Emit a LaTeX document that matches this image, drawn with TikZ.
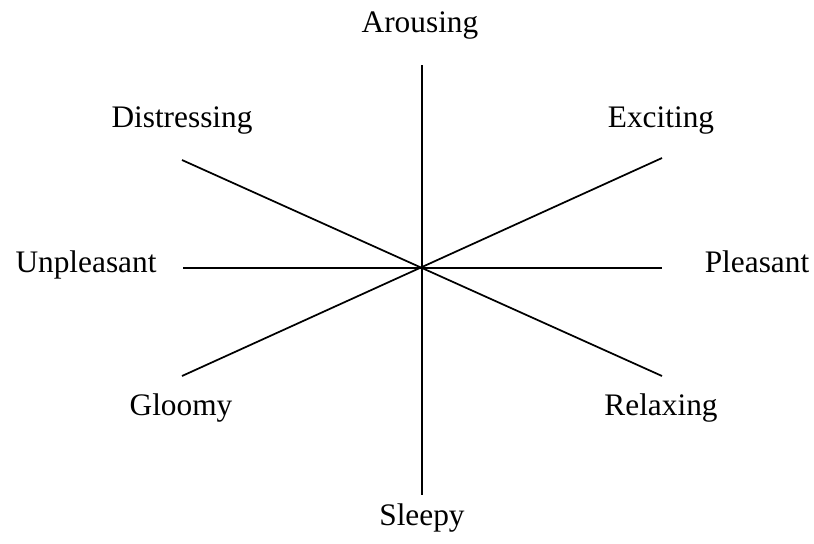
\documentclass[tikz,border=0pt]{standalone}
\usepackage{fontspec}
\setmainfont{Liberation Serif}
\begin{document}
\begin{tikzpicture}[x=0.75pt,y=-0.75pt,
  lbl/.style={anchor=base,inner sep=0pt,font=\fontsize{23.5}{28}\selectfont},
  axis/.style={line width=1.3pt}]
\useasboundingbox (0,0) rectangle (814,543);
\coordinate (c) at (422,268);
\coordinate (top) at (422,65);
\coordinate (bot) at (422,495);
\coordinate (lft) at (183,268);
\coordinate (rgt) at (662,268);
\coordinate (tl) at (182,160);
\coordinate (tr) at (662,158);
\coordinate (bl) at (182,376);
\coordinate (br) at (662,376);
\draw[axis] (top) -- (bot);
\draw[axis] (lft) -- (rgt);
\draw[axis] (tl) -- (br);
\draw[axis] (bl) -- (tr);
\node[lbl] (arousing) at (420,32) {Arousing};
\node[lbl] (distressing) at (182,127) {Distressing};
\node[lbl] (exciting) at (661,127) {Exciting};
\node[lbl] (unpleasant) at (86,272) {Unpleasant};
\node[lbl] (pleasant) at (757,272) {Pleasant};
\node[lbl] (gloomy) at (181,415) {Gloomy};
\node[lbl] (relaxing) at (661,415) {Relaxing};
\node[lbl] (sleepy) at (422,525) {Sleepy};
\end{tikzpicture}
\end{document}
